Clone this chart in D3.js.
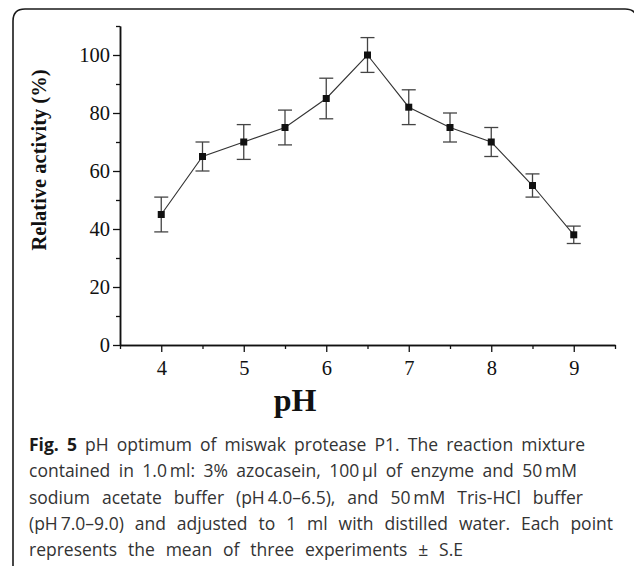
<!DOCTYPE html>
<html>
<head>
<meta charset="utf-8">
<script src="https://cdn.jsdelivr.net/npm/d3@7"></script>
<style>
  html, body { margin: 0; padding: 0; background: #fff; }
  svg { display: block; }
</style>
</head>
<body>
<svg id="chart" width="634" height="567"></svg>
<script>
// pH optimum of miswak protease P1: mean relative activity ± S.E.
const pHValues = [4, 4.5, 5, 5.5, 6, 6.5, 7, 7.5, 8, 8.5, 9];
const activity = [45, 65, 70, 75, 85, 100, 82, 75, 70, 55, 38];
const stdErr   = [6, 5, 6, 6, 7, 6, 6, 5, 5, 4, 3];

const xMajorTicks = [4, 5, 6, 7, 8, 9];
const xMinorTicks = [3.5, 4.5, 5.5, 6.5, 7.5, 8.5, 9.5];
const yMajorTicks = [0, 20, 40, 60, 80, 100];
const yMinorTicks = [10, 30, 50, 70, 90, 110];

const captionLines = [
  { bold: "Fig. 5", text: " pH optimum of miswak protease P1. The reaction mixture", width: 556 },
  { bold: "", text: "contained in 1.0\u2009ml: 3% azocasein, 100\u2009\u00b5l of enzyme and 50\u2009mM", width: 548 },
  { bold: "", text: "sodium acetate buffer (pH\u20094.0\u20136.5), and 50\u2009mM Tris-HCl buffer", width: 554 },
  { bold: "", text: "(pH\u20097.0\u20139.0) and adjusted to 1 ml with distilled water. Each point", width: 584 },
  { bold: "", text: "represents the mean of three experiments \u00b1 S.E", width: 434 }
];

const svg = d3.select("#chart");
const serif = "'Liberation Serif', 'DejaVu Serif', serif";

// Frame around the figure and its caption (open at the bottom)
svg.append("path")
  .attr("d", "M13,566 L13,21 Q13,9 25,9 L625,9 Q637,9 637,21 L637,566")
  .attr("fill", "none")
  .attr("stroke", "#1a1a1a")
  .attr("stroke-width", 1.6);

const x = d3.scaleLinear().domain([3.5, 9.5]).range([120, 615]);
const y = d3.scaleLinear().domain([0, 110]).range([345, 26]);

// Axes
function styleAxis(g) {
  g.selectAll("path.domain").attr("stroke", "#111").attr("stroke-width", 1.5);
  g.selectAll(".tick line").attr("stroke", "#111").attr("stroke-width", 1.3);
  g.selectAll(".tick text")
    .attr("font-family", serif)
    .attr("font-size", 20.5)
    .attr("fill", "#111");
}

svg.append("g")
  .attr("transform", `translate(0,${y(0)})`)
  .call(d3.axisBottom(x).tickValues(xMinorTicks).tickSize(4).tickSizeOuter(0).tickFormat(""))
  .call(styleAxis);

svg.append("g")
  .attr("transform", `translate(0,${y(0)})`)
  .call(d3.axisBottom(x).tickValues(xMajorTicks).tickSize(7).tickSizeOuter(0).tickPadding(8).tickFormat(d3.format("d")))
  .call(styleAxis);

svg.append("g")
  .attr("transform", `translate(${x(3.5)},0)`)
  .call(d3.axisLeft(y).tickValues(yMinorTicks).tickSize(4).tickSizeOuter(0).tickFormat(""))
  .call(styleAxis);

svg.append("g")
  .attr("transform", `translate(${x(3.5)},0)`)
  .call(d3.axisLeft(y).tickValues(yMajorTicks).tickSize(7).tickSizeOuter(0).tickPadding(3).tickFormat(d3.format("d")))
  .call(styleAxis);

// Axis titles
svg.append("text")
  .attr("transform", "translate(46,160) rotate(-90)")
  .attr("text-anchor", "middle")
  .attr("font-family", serif)
  .attr("font-weight", "bold")
  .attr("font-size", 20.5)
  .attr("fill", "#111")
  .text("Relative activity (%)");

svg.append("text")
  .attr("x", 295)
  .attr("y", 411)
  .attr("text-anchor", "middle")
  .attr("font-family", serif)
  .attr("font-weight", "bold")
  .attr("font-size", 32)
  .attr("fill", "#111")
  .text("pH");

// Data
const data = pHValues.map((p, i) => ({ p, v: activity[i], e: stdErr[i] }));

const line = d3.line().x(d => x(d.p)).y(d => y(d.v));
svg.append("path")
  .datum(data)
  .attr("d", line)
  .attr("fill", "none")
  .attr("stroke", "#333")
  .attr("stroke-width", 1.1);

const bars = svg.append("g").attr("stroke", "#444").attr("stroke-width", 1.3);
bars.selectAll("line.v").data(data).join("line")
  .attr("x1", d => x(d.p)).attr("x2", d => x(d.p))
  .attr("y1", d => y(d.v + d.e)).attr("y2", d => y(d.v - d.e));
bars.selectAll("line.top").data(data).join("line")
  .attr("x1", d => x(d.p) - 7).attr("x2", d => x(d.p) + 7)
  .attr("y1", d => y(d.v + d.e)).attr("y2", d => y(d.v + d.e));
bars.selectAll("line.bot").data(data).join("line")
  .attr("x1", d => x(d.p) - 7).attr("x2", d => x(d.p) + 7)
  .attr("y1", d => y(d.v - d.e)).attr("y2", d => y(d.v - d.e));

svg.append("g").selectAll("rect").data(data).join("rect")
  .attr("x", d => x(d.p) - 3.5)
  .attr("y", d => y(d.v) - 3.5)
  .attr("width", 7)
  .attr("height", 7)
  .attr("fill", "#111");

// Caption, each line spread to its set width
const cap = svg.append("g")
  .attr("font-family", "'Open Sans', 'Noto Sans', sans-serif")
  .attr("font-size", 17.5)
  .attr("fill", "#333");

captionLines.forEach((ln, i) => {
  const t = cap.append("text").attr("x", 29).attr("y", 451 + i * 26.3);
  if (ln.bold) t.append("tspan").attr("font-weight", "bold").attr("fill", "#1a1a1a").text(ln.bold);
  t.append("tspan").text(ln.text);
  const natural = t.node().getComputedTextLength();
  if (natural > ln.width) {
    t.attr("textLength", ln.width).attr("lengthAdjust", "spacingAndGlyphs");
  } else {
    const gaps = (ln.bold + ln.text).split(" ").length - 1;
    if (gaps > 0) t.attr("word-spacing", ((ln.width - natural) / gaps).toFixed(2));
  }
});
</script>
</body>
</html>
